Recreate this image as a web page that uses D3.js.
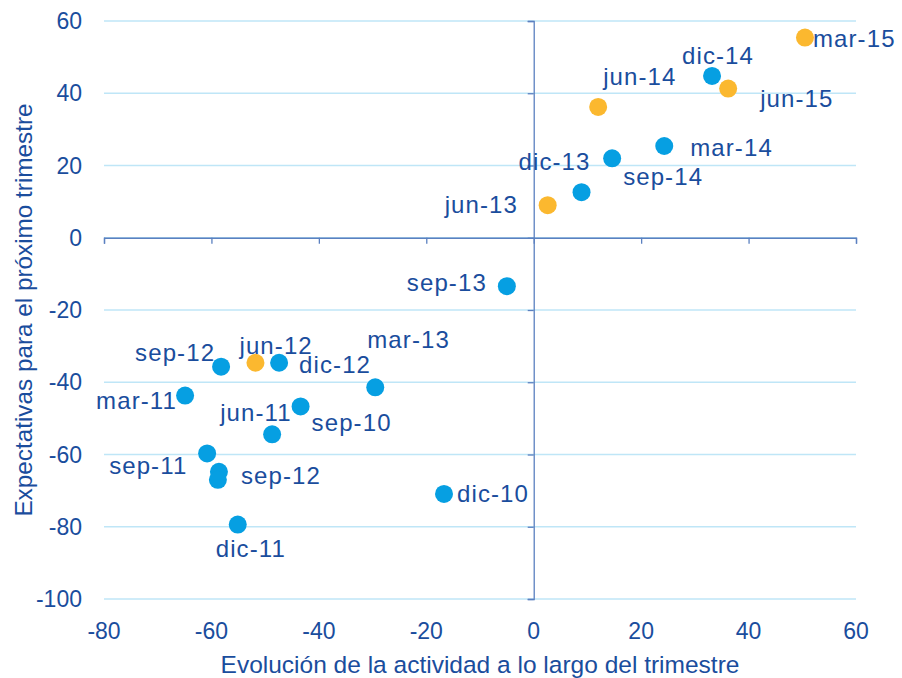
<!DOCTYPE html>
<html>
<head>
<meta charset="utf-8">
<script src="https://cdn.jsdelivr.net/npm/d3@7"></script>
<style>
    body { margin: 0; background: #fff; }
    svg { display: block; font-family: 'Liberation Sans', Arial, sans-serif; }
</style>
</head>
<body>
<svg id="the-chart"></svg>
<script>
/* global d3: true */

// quarter labels, one per point
var labels = ['dic-10', 'sep-10', 'mar-11', 'jun-11', 'sep-11', 'dic-11',
    'sep-12', 'sep-12', '', 'jun-12', 'dic-12', 'mar-13', 'jun-13', 'sep-13',
    'dic-13', 'mar-14', 'sep-14', 'jun-14', 'dic-14', 'mar-15', 'jun-15'];
// evolution of activity during the quarter
var activity = [-16.7, -43.4, -64.9, -48.7, -60.8, -55.1,
    -58.2, -58.6, -58.8, -51.8, -47.4, -29.5, 2.6, -5.0,
    8.9, 24.3, 14.6, 12.0, 33.2, 50.5, 36.2];
// expectations for next quarter
var expectations = [-70.9, -46.7, -43.7, -54.4, -59.7, -79.4,
    -35.7, -64.8, -67.0, -34.6, -34.6, -41.4, 9.0, -13.4,
    12.6, 25.4, 22.0, 36.2, 44.8, 55.4, 41.3];
// series each point belongs to
var series = ['real', 'real', 'real', 'real', 'real', 'real',
    'real', 'real', 'real', 'prev', 'real', 'real', 'prev', 'real',
    'real', 'real', 'real', 'prev', 'real', 'prev', 'prev'];

var xTicks = [-80, -60, -40, -20, 0, 20, 40, 60];
var yTicks = [-100, -80, -60, -40, -20, 0, 20, 40, 60];

// where each label sits relative to its dot (pixels)
var labelOffsets = [[13, 8], [11, 25], [-89, 13], [-52, -13], [-98, 21], [-22, 32],
    [-86, -6], [22, 12], [0, 0], [-16, -9], [20, 10], [-8, -39], [-103, 8], [-100, 5],
    [-63, -22], [26, 10], [11, 27], [5, -22], [-30, -12], [8, 9], [32, 18]];

var colors = {real: '#069fe2', prev: '#fbb82f'};
var textColor = '#1a4d9d';

var width = 902;
var height = 678;
var margin = {top: 21, right: 46, bottom: 79, left: 104};

var svg = d3.select('#the-chart')
    .attr('width', width)
    .attr('height', height);

var x = d3.scaleLinear()
    .domain([-80, 60])
    .range([margin.left, width - margin.right]);
var y = d3.scaleLinear()
    .domain([-100, 60])
    .range([height - margin.bottom, margin.top]);

// gridlines
svg.append('g')
    .attr('class', 'grid')
    .selectAll('line')
    .data(yTicks)
    .enter().append('line')
    .attr('x1', x(-80))
    .attr('x2', x(60))
    .attr('y1', function(d) { return y(d); })
    .attr('y2', function(d) { return y(d); })
    .attr('stroke', '#bfe6f7')
    .attr('stroke-width', 1.3);

// axis lines cross at zero
var xAxis = d3.axisBottom(x).tickValues(xTicks).tickSize(6).tickFormat('');
svg.append('g')
    .attr('transform', 'translate(0,' + y(0) + ')')
    .call(xAxis)
    .call(function(g) {
        g.selectAll('path, line').attr('stroke', '#5b80c0').attr('stroke-width', 1.3);
    });

var yAxis = d3.axisLeft(y).tickValues(yTicks).tickSize(6).tickFormat('');
svg.append('g')
    .attr('transform', 'translate(' + x(0) + ',0)')
    .call(yAxis)
    .call(function(g) {
        g.selectAll('path, line').attr('stroke', '#5b80c0').attr('stroke-width', 1.3);
    });

// tick labels on the outside edges
svg.append('g')
    .selectAll('text')
    .data(xTicks)
    .enter().append('text')
    .attr('x', function(d) { return x(d); })
    .attr('y', height - margin.bottom + 40)
    .attr('text-anchor', 'middle')
    .attr('font-size', 23)
    .attr('fill', textColor)
    .text(function(d) { return d; });

svg.append('g')
    .selectAll('text')
    .data(yTicks)
    .enter().append('text')
    .attr('x', margin.left - 22)
    .attr('y', function(d) { return y(d) + 8; })
    .attr('text-anchor', 'end')
    .attr('font-size', 23)
    .attr('fill', textColor)
    .text(function(d) { return d; });

// axis titles
svg.append('text')
    .attr('x', (x(-80) + x(60)) / 2)
    .attr('y', 673)
    .attr('text-anchor', 'middle')
    .attr('font-size', 24.5)
    .attr('fill', textColor)
    .text('Evolución de la actividad a lo largo del trimestre');

svg.append('text')
    .attr('transform', 'translate(32,' + (y(-100) + y(60)) / 2 + ') rotate(-90)')
    .attr('text-anchor', 'middle')
    .attr('font-size', 24.3)
    .attr('fill', textColor)
    .text('Expectativas para el próximo trimestre');

var points = labels.map(function(label, i) {
    return {
        label: label,
        x: activity[i],
        y: expectations[i],
        group: series[i],
        offset: labelOffsets[i]
    };
});
// forecast dots drawn on top
points.sort(function(a, b) {
    return (a.group === 'prev') - (b.group === 'prev');
});

svg.append('g')
    .attr('class', 'dots')
    .selectAll('circle')
    .data(points)
    .enter().append('circle')
    .attr('cx', function(d) { return x(d.x); })
    .attr('cy', function(d) { return y(d.y); })
    .attr('r', 9)
    .attr('fill', function(d) { return colors[d.group]; });

svg.append('g')
    .attr('class', 'labels')
    .selectAll('text')
    .data(points.filter(function(d) { return d.label; }))
    .enter().append('text')
    .attr('x', function(d) { return x(d.x) + d.offset[0]; })
    .attr('y', function(d) { return y(d.y) + d.offset[1]; })
    .attr('font-size', 24)
    .attr('letter-spacing', 1.1)
    .attr('fill', textColor)
    .text(function(d) { return d.label; });
</script>
</body>
</html>
